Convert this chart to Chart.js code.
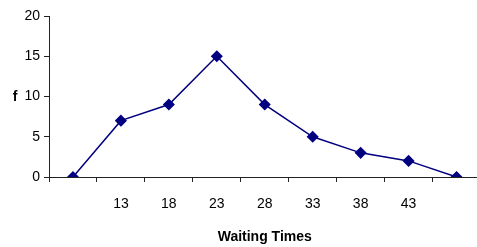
<!DOCTYPE html>
<html>
<head>
<meta charset="utf-8">
<script src="https://cdn.jsdelivr.net/npm/chart.js@4.4.0/dist/chart.umd.min.js"></script>
<style>
  html, body { margin: 0; padding: 0; background: #fff; overflow: hidden; }
</style>
</head>
<body>
<canvas id="freqChart" width="487" height="247"></canvas>
<script>
// datos
var waitingTimes = ['', '13', '18', '23', '28', '33', '38', '43', ''];
var frequencies = [0, 7, 9, 15, 9, 5, 3, 2, 0];
var yTicks = [0, 5, 10, 15, 20];

var navy = '#000080';
var fontFamily = '"Liberation Sans", Arial, sans-serif';

// etiqueta "f" del eje Y, sin rotar
var yLabelPlugin = {
    id: 'yLabel',
    afterDraw: function(chart) {
        var ctx = chart.ctx;
        ctx.save();
        ctx.font = 'bold 14px ' + fontFamily;
        ctx.fillStyle = '#000';
        ctx.textAlign = 'center';
        ctx.textBaseline = 'middle';
        ctx.fillText('f', 15, 97);
        ctx.restore();
    }
};

var ctx = document.getElementById('freqChart').getContext('2d');
var myChart = new Chart(ctx, {
    type: 'line',
    data: {
        labels: waitingTimes,
        datasets: [{
            data: frequencies,
            borderColor: navy,
            backgroundColor: navy,
            borderWidth: 1.5,
            pointStyle: 'rectRot',
            pointRadius: 5,
            pointBackgroundColor: navy,
            pointBorderColor: navy,
            tension: 0
        }]
    },
    options: {
        responsive: false,
        animation: false,
        layout: { padding: { left: 0, top: 16, right: 0, bottom: 0 } },
        plugins: {
            legend: { display: false },
            tooltip: { enabled: false }
        },
        scales: {
            x: {
                type: 'category',
                offset: true,
                afterFit: function(scale) {
                    scale.height = 70;
                    scale.paddingLeft = 0;
                    scale.paddingRight = 0;
                },
                grid: {
                    offset: true,
                    drawOnChartArea: false,
                    tickLength: 5,
                    color: '#222'
                },
                border: { color: '#222', width: 1 },
                ticks: {
                    color: '#000',
                    padding: 14,
                    maxRotation: 0,
                    autoSkip: false,
                    font: { family: fontFamily, size: 14 }
                },
                title: {
                    display: true,
                    text: 'Waiting Times',
                    color: '#000',
                    font: { family: fontFamily, size: 14, weight: 'bold' },
                    padding: { top: 0, bottom: 1 }
                }
            },
            y: {
                min: 0,
                max: 20,
                afterFit: function(scale) { scale.width = 49; },
                afterBuildTicks: function(scale) {
                    scale.ticks = yTicks.map(function(v) { return { value: v }; });
                },
                grid: {
                    drawOnChartArea: false,
                    tickLength: 5,
                    color: '#222'
                },
                border: { color: '#222', width: 1 },
                ticks: {
                    color: '#000',
                    padding: 4,
                    font: { family: fontFamily, size: 14 }
                }
            }
        }
    },
    plugins: [yLabelPlugin]
});
</script>
</body>
</html>
